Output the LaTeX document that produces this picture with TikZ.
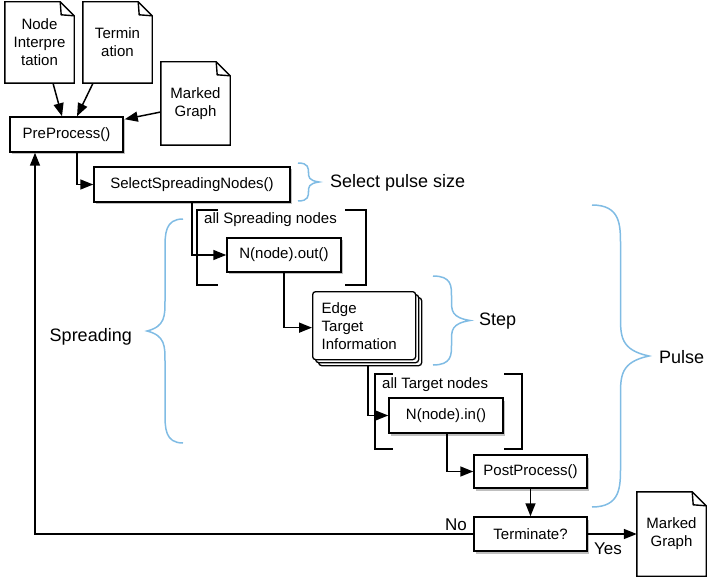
\documentclass[tikz,border=0pt]{standalone}
\usepackage{fontspec}
\setmainfont{Liberation Sans}
\usetikzlibrary{arrows.meta,shadows,calc}
\definecolor{bracecol}{RGB}{128,188,228}

% curly brace: top x, top y, bottom y, tip x, bend size
\newcommand\curlybr[5]{%
  \pgfmathsetmacro\brxm{(#1+#4)/2}%
  \pgfmathsetmacro\brym{(#2+#3)/2}%
  \draw[bracestyle] (#1,#2) .. controls (\brxm,#2) and (\brxm,#2+#5) .. (\brxm,#2+2*#5)
    -- (\brxm,\brym-2*#5) .. controls (\brxm,\brym-#5) and (\brxm,\brym-0.3*#5) .. (#4,\brym)
    .. controls (\brxm,\brym+0.3*#5) and (\brxm,\brym+#5) .. (\brxm,\brym+2*#5)
    -- (\brxm,#3-2*#5) .. controls (\brxm,#3-#5) and (\brxm,#3) .. (#1,#3);}

% document symbol with folded corner, drawn around a node
\newcommand\docoutline[1]{%
  \draw[docline] (#1.north west) -- ([xshift=-14pt]#1.north east)
    -- ([yshift=-14pt]#1.north east) -- (#1.south east) -- (#1.south west) -- cycle;
  \draw[docline] ([xshift=-14pt]#1.north east) -- ([xshift=-13pt,yshift=-13pt]#1.north east)
    -- ([yshift=-14pt]#1.north east);}

\tikzset{
  base/.style={font=\fontsize{15}{18}\selectfont},
  box/.style={base, draw, fill=white, line width=1.5pt, inner sep=0pt,
    drop shadow={shadow xshift=2pt, shadow yshift=-2.5pt, opacity=0.5}},
  stackbox/.style={base, draw, fill=white, line width=1.3pt, rounded corners=3pt,
    double copy shadow={shadow xshift=3pt, shadow yshift=-3pt}},
  doc/.style={base, fill=white, align=center, inner sep=0pt, minimum width=69pt},
  docline/.style={line width=1.4pt, line join=miter},
  conn/.style={line width=1.5pt, -{Triangle[length=13pt,width=10pt]}},
  plain/.style={line width=1.5pt},
  bracestyle/.style={draw=bracecol, line width=1.5pt},
  biglabel/.style={font=\fontsize{18}{21}\selectfont, inner sep=0pt},
  yesno/.style={font=\fontsize{17}{20}\selectfont, inner sep=0pt},
  tag/.style={base, inner sep=0pt}
}

\begin{document}
\begin{tikzpicture}[x=1pt, y=-1pt]
\useasboundingbox (0,0) rectangle (707,580);

% input documents
\node[doc, minimum height=81pt] (ni) at (39.5,42.5) {Node\\Interpre\\tation};
\docoutline{ni}
\node[doc, minimum height=81pt] (td) at (117.5,42.5) {Termin\\ation};
\docoutline{td}
\node[doc, minimum height=83pt] (mg) at (195.5,103.5) {Marked\\Graph};
\docoutline{mg}

% process boxes
\node[box, minimum width=113pt, minimum height=35pt] (pre) at (66.5,134.5) {PreProcess()};
\node[box, minimum width=196pt, minimum height=35pt] (sel) at (192,184.5) {SelectSpreadingNodes()};
\node[box, minimum width=114pt, minimum height=34pt] (out) at (284,255) {N(node).out()};
\node[stackbox, anchor=north west, minimum width=103pt, minimum height=68pt,
      text width=85pt, inner xsep=9pt, inner ysep=0pt, align=left] (edge) at (312,291)
      {Edge\\Target\\Information};
\node[box, minimum width=114pt, minimum height=35pt] (in) at (446,415.5) {N(node).in()};
\node[box, minimum width=113pt, minimum height=33pt] (post) at (530.5,471.5) {PostProcess()};
\node[box, minimum width=113pt, minimum height=34pt] (term) at (530.5,534) {Terminate?};

% output document
\node[doc, minimum height=84pt] (mgout) at (671.5,534) {Marked\\Graph};
\docoutline{mgout}

% loop brackets
\draw[plain] (218,210) -| (197,285) -- (218,285);
\draw[plain] (345,210) -| (366,285) -- (345,285);
\node[tag, anchor=west] (allspread) at (204,220) {all Spreading nodes};
\draw[plain] (393,374) -| (375,449) -- (393,449);
\draw[plain] (504,374) -| (522,449) -- (504,449);
\node[tag, anchor=west] (alltarget) at (382,385) {all Target nodes};

% connectors
\draw[conn] ([xshift=13.5pt]ni.south) -- ([xshift=-4.5pt]pre.north);
\draw[conn] ([xshift=-24.5pt]td.south) -- ([xshift=10.5pt]pre.north);
\draw[conn] ([yshift=-8.5pt]mg.west) -- ([xshift=1pt,yshift=-3pt]pre.north east);
\draw[conn] ([xshift=10.5pt]pre.south) |- (sel.west);
\draw[conn] (sel.south) |- (out.west);
\draw[conn] (out.south) |- ([yshift=-2pt]edge.west);
\draw[conn] ([xshift=4pt,yshift=-6pt]edge.south) |- (in.west);
\draw[conn] ([xshift=1pt]in.south) |- (post.west);
\draw[conn] (post.south) -- (term.north);
\draw[conn] (term.east) -- (mgout.west);
\draw[conn] (term.west) -| ([xshift=-31.5pt]pre.south);
\node[yesno] (no) at (456,525) {No};
\node[yesno] (yes) at (608,549) {Yes};

% braces and their labels
\curlybr{298}{163}{201}{319}{5}
\node[biglabel, anchor=west] (pulsesize) at (330,183) {Select pulse size};
\curlybr{183}{219}{443}{147}{15}
\node[biglabel, anchor=east] (spreading) at (132,337) {Spreading};
\curlybr{433}{276}{365}{470}{10}
\node[biglabel, anchor=west] (step) at (479,321) {Step};
\curlybr{592}{205}{507}{649}{20}
\node[biglabel, anchor=west] (pulse) at (659,357) {Pulse};
\end{tikzpicture}
\end{document}
